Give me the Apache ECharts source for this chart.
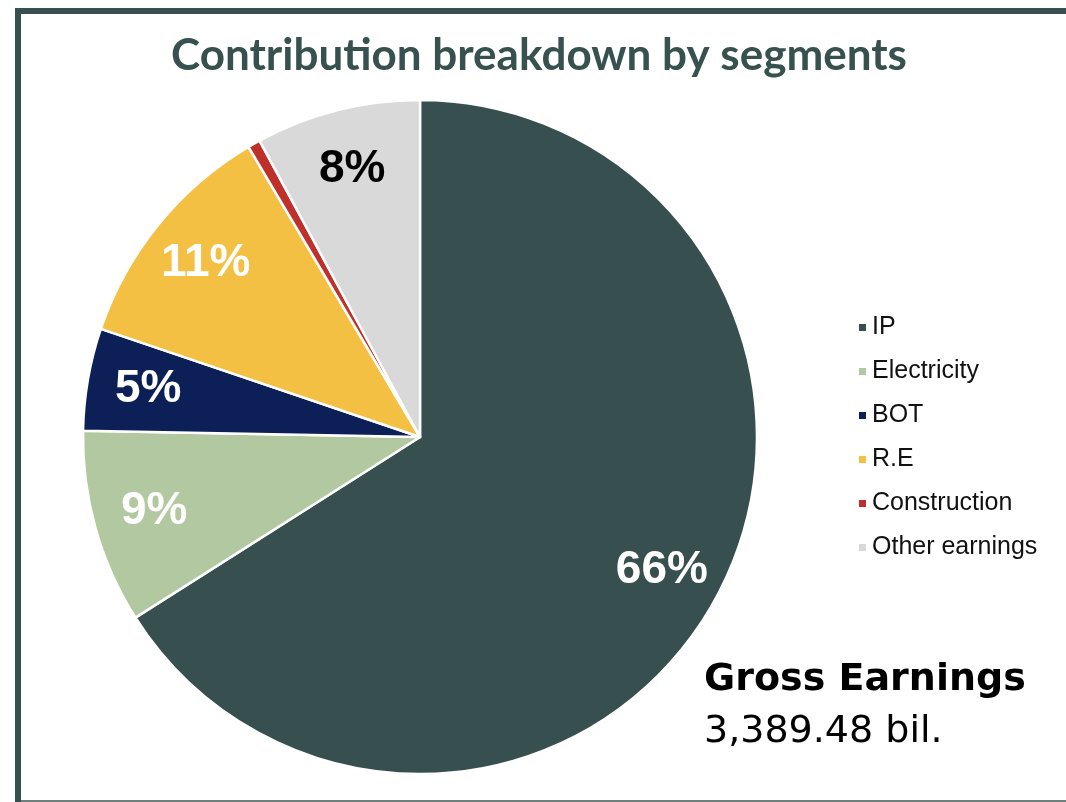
<!DOCTYPE html>
<html>
<head>
<meta charset="utf-8">
<style>
  html, body { margin: 0; padding: 0; background: #fff; }
  #chart { width: 1066px; height: 802px; }
</style>
<script src="https://cdn.jsdelivr.net/npm/echarts@6/dist/echarts.min.js"></script>
</head>
<body>
<div id="chart"></div>
<script>
// segment shares of gross earnings (%)
const segments = ['IP', 'Electricity', 'BOT', 'R.E', 'Construction', 'Other earnings']
const shares = [66.0, 9.3, 4.9, 11.3, 0.6, 7.9]
const colors = ['#37504f', '#b2c8a0', '#0c1f57', '#f4c043', '#c0302a', '#d9d9d9']

const titleText = 'Contribution breakdown by segments'
const totalLabel = 'Gross Earnings'
const totalValue = '3,389.48 bil.'

const frameColor = '#37504f'
const center = [420, 437]
const radius = 337

const chart = echarts.init(document.getElementById('chart'), null, { renderer: 'canvas' })

const slices = segments.map((name, i) => ({
  name,
  value: shares[i],
  itemStyle: { color: colors[i] }
}))

const labelSlices = segments.map((name, i) => ({
  name,
  value: shares[i],
  label: { color: name === 'Other earnings' ? '#000' : '#fff' }
}))

chart.setOption({
  backgroundColor: '#fff',
  animation: false,
  title: {
    text: titleText,
    left: 534,
    textAlign: 'center',
    top: 29,
    textStyle: {
      fontFamily: 'Lato',
      fontWeight: 'bold',
      fontSize: 44,
      color: '#37514f'
    }
  },
  legend: {
    orient: 'vertical',
    left: 852,
    top: 310,
    itemWidth: 9,
    itemHeight: 9,
    itemGap: 19,
    icon: 'rect',
    data: segments,
    textStyle: {
      fontFamily: 'Liberation Sans',
      fontSize: 25,
      color: '#111'
    }
  },
  graphic: [
    // frame around the slide
    { type: 'rect', shape: { x: 15, y: 8, width: 1051, height: 6 }, style: { fill: frameColor } },
    { type: 'rect', shape: { x: 15, y: 8, width: 6, height: 794 }, style: { fill: frameColor } },
    { type: 'rect', shape: { x: 21, y: 800, width: 1045, height: 2 }, style: { fill: '#6f7f7c' } },
    {
      type: 'text', left: 704, top: 661,
      style: { text: totalLabel, font: 'bold 38px "DejaVu Sans"', fill: '#000' }
    },
    {
      type: 'text', left: 704, top: 713,
      style: { text: totalValue, font: '38px "DejaVu Sans"', fill: '#000' }
    }
  ],
  series: [
    {
      type: 'pie',
      center,
      radius: [0, radius],
      startAngle: 90,
      clockwise: true,
      avoidLabelOverlap: false,
      label: { show: false },
      labelLine: { show: false },
      itemStyle: { borderColor: '#fff', borderWidth: 2.5 },
      emphasis: { disabled: true },
      data: slices
    },
    {
      // transparent ring that only carries the percentage labels
      type: 'pie',
      center,
      radius: [radius * 0.62, radius],
      startAngle: 90,
      clockwise: true,
      silent: true,
      avoidLabelOverlap: false,
      minShowLabelAngle: 3,
      itemStyle: { color: 'transparent' },
      labelLine: { show: false },
      emphasis: { disabled: true },
      label: {
        show: true,
        position: 'inside',
        fontFamily: 'Liberation Sans',
        fontWeight: 'bold',
        fontSize: 46,
        formatter: p => Math.round(p.percent) + '%'
      },
      data: labelSlices
    }
  ]
})
</script>
</body>
</html>
